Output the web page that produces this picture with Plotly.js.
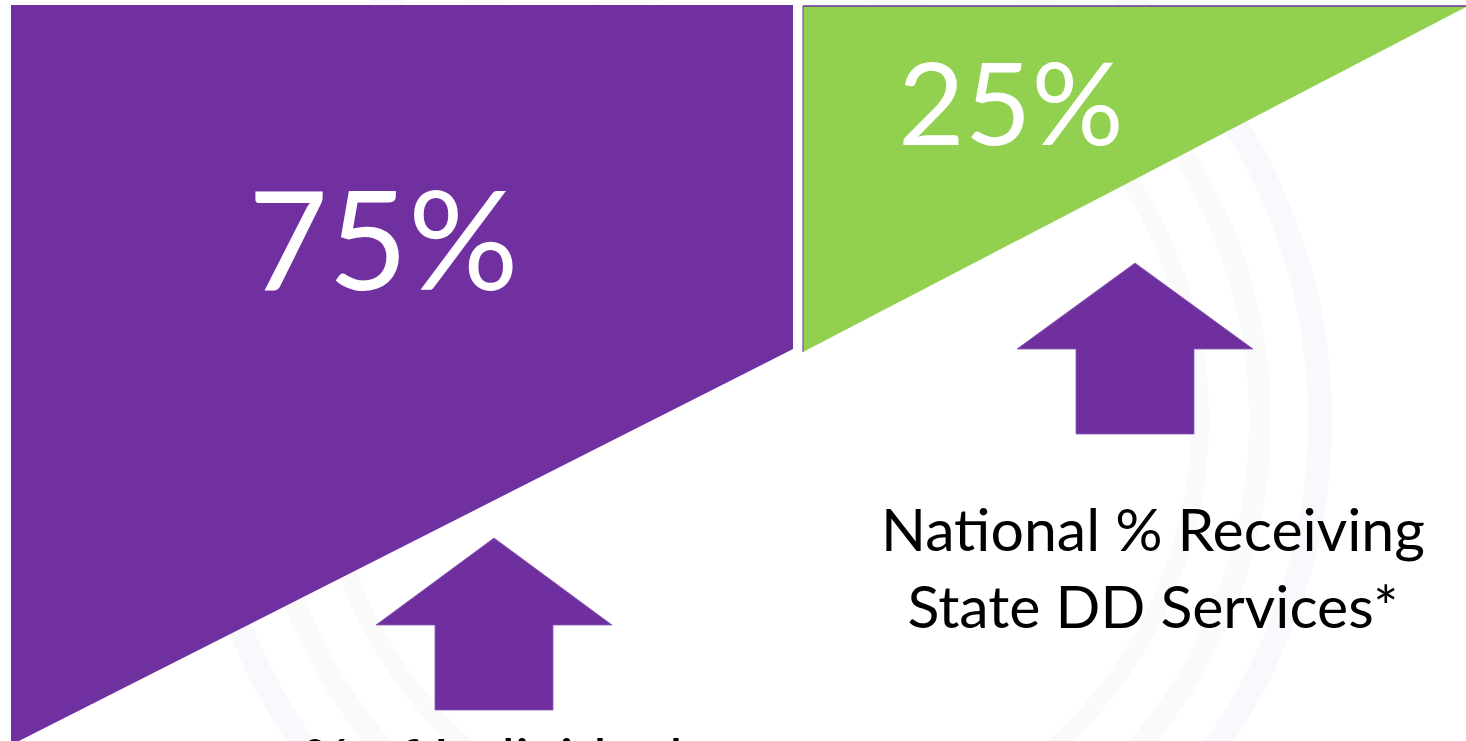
<!DOCTYPE html>
<html>
<head>
<meta charset="utf-8">
<script src="https://cdn.plot.ly/plotly-3.0.1.min.js"></script>
<style>
  html, body { margin: 0; padding: 0; background: #ffffff; overflow: hidden; }
  #chart { width: 1466px; height: 741px; }
</style>
</head>
<body>
<div id="chart"></div>
<script>
// ---- data ----
const categories = ["Idaho", "National"];
const percentValues = [75, 25];
const captions = [
  "% of Individuals",
  "National % Receiving<br>State DD Services*"
];
const segmentColors = ["#7030A0", "#92D050"];

// ---- layout geometry (pixel-like axis units, y grows downward) ----
const W = 1466, H = 741;
const seg = [
  { x0: 11,  x1: 793,  top: 5, cutL: 745, cutR: 349 },
  { x0: 803, x1: 1466, top: 6, cutL: 352, cutR: 7 }
];
const labelPos = [ { x: 383, y: 236, size: 138 }, { x: 1011, y: 100, size: 115 } ];
const arrows = [
  { cx: 494, tipY: 538, baseY: 625, headHalf: 118, shaftHalf: 59, bottom: 710 },
  { cx: 1135, tipY: 263, baseY: 349, headHalf: 118, shaftHalf: 59, bottom: 434 }
];

const traces = categories.map((c, i) => {
  const s = seg[i];
  return {
    type: "scatter",
    mode: "lines",
    name: c,
    x: [s.x0, s.x1, s.x1, s.x0, s.x0],
    y: [s.top, s.top, s.cutR, s.cutL, s.top],
    fill: "toself",
    fillcolor: segmentColors[i],
    line: { color: segmentColors[i], width: 0 },
    hoverinfo: "skip",
    showlegend: false
  };
});

const shapes = [];
// faint background rings
[[760, 420, 560, 24, "#f9f9fd"], [760, 420, 500, 22, "#fafbf8"], [760, 420, 440, 18, "#fbfafb"]].forEach(r => {
  shapes.push({
    type: "circle", xref: "x", yref: "y", layer: "below",
    x0: r[0] - r[2], x1: r[0] + r[2], y0: r[1] - r[2], y1: r[1] + r[2],
    line: { color: r[4], width: r[3] }, fillcolor: "rgba(0,0,0,0)"
  });
});
// thin purple edge on top/left of the green panel
shapes.push({ type: "line", xref: "x", yref: "y", x0: seg[1].x0, x1: seg[1].x1, y0: seg[1].top, y1: seg[1].top,
  line: { color: "#7030A0", width: 1.5 }, layer: "above" });
shapes.push({ type: "line", xref: "x", yref: "y", x0: seg[1].x0, x1: seg[1].x0, y0: seg[1].top, y1: seg[1].cutL,
  line: { color: "#7030A0", width: 1 }, layer: "above" });
// arrows
arrows.forEach(a => {
  const p = `M ${a.cx},${a.tipY} L ${a.cx + a.headHalf},${a.baseY} L ${a.cx + a.shaftHalf},${a.baseY} ` +
            `L ${a.cx + a.shaftHalf},${a.bottom} L ${a.cx - a.shaftHalf},${a.bottom} L ${a.cx - a.shaftHalf},${a.baseY} ` +
            `L ${a.cx - a.headHalf},${a.baseY} Z`;
  shapes.push({ type: "path", xref: "x", yref: "y", path: p, fillcolor: "#6F2F9E",
    line: { color: "#8A5BB5", width: 0.8 }, layer: "above" });
});

const annotations = [];
percentValues.forEach((v, i) => {
  annotations.push({
    xref: "x", yref: "y", x: labelPos[i].x, y: labelPos[i].y,
    text: v + "%", showarrow: false, xanchor: "center", yanchor: "middle",
    font: { family: "Lato, 'Open Sans', sans-serif", size: labelPos[i].size, color: "#ffffff" }
  });
});
annotations.push({
  xref: "x", yref: "y", x: 1153, y: 567, text: captions[1], showarrow: false,
  xanchor: "center", yanchor: "middle", align: "center",
  font: { family: "Lato, 'Open Sans', sans-serif", size: 59, color: "#000000" }
});
annotations.push({
  xref: "x", yref: "y", x: 505, y: 721, text: captions[0], showarrow: false,
  xanchor: "center", yanchor: "top", align: "center",
  font: { family: "Lato, 'Open Sans', sans-serif", size: 59, color: "#000000" }
});

const layout = {
  width: W, height: H,
  margin: { l: 0, r: 0, t: 0, b: 0, pad: 0 },
  paper_bgcolor: "#ffffff", plot_bgcolor: "#ffffff",
  xaxis: { range: [0, W], visible: false, fixedrange: true },
  yaxis: { range: [H, 0], visible: false, fixedrange: true },
  showlegend: false,
  shapes: shapes,
  annotations: annotations,
  hovermode: false
};

Plotly.newPlot("chart", traces, layout, { displayModeBar: false, staticPlot: true });
</script>
</body>
</html>
